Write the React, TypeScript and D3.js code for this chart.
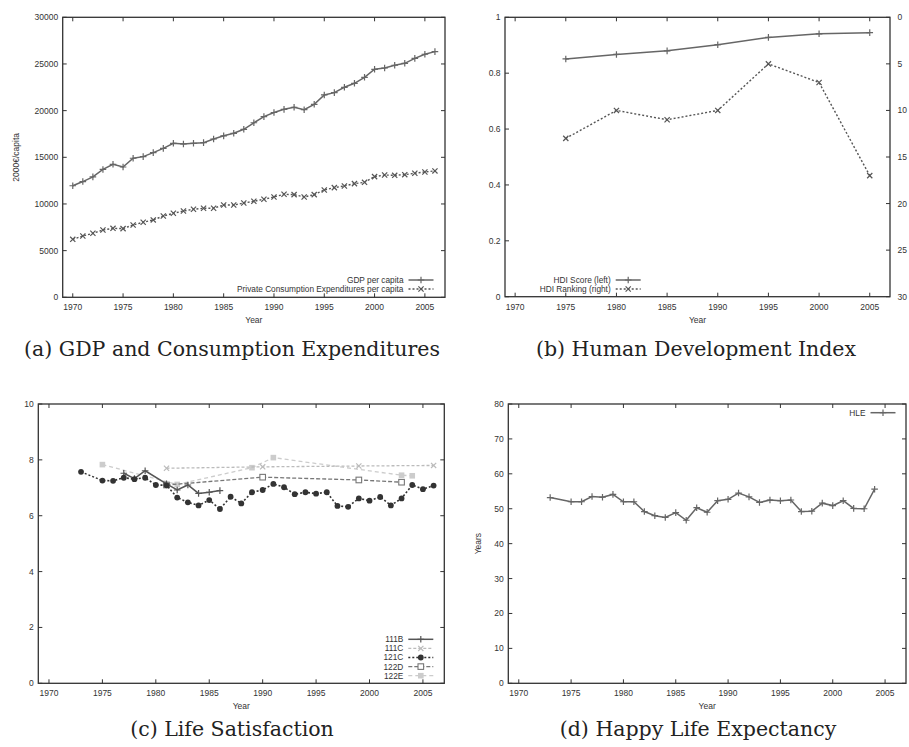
import { useEffect, useRef } from "react";
import * as d3 from "d3";

// ---- data ----
const yearTicks = [1970, 1975, 1980, 1985, 1990, 1995, 2000, 2005];

const gdpYears = [
  1970, 1971, 1972, 1973, 1974, 1975, 1976, 1977, 1978, 1979, 1980, 1981, 1982,
  1983, 1984, 1985, 1986, 1987, 1988, 1989, 1990, 1991, 1992, 1993, 1994, 1995,
  1996, 1997, 1998, 1999, 2000, 2001, 2002, 2003, 2004, 2005, 2006,
];
const gdp = [
  11950, 12400, 12900, 13700, 14250, 13960, 14900, 15070, 15500, 15960, 16500,
  16430, 16500, 16570, 16960, 17300, 17570, 18000, 18700, 19360, 19800, 20140,
  20360, 20100, 20680, 21680, 21930, 22500, 22930, 23570, 24430, 24570, 24860,
  25070, 25600, 26040, 26320,
];
const pce = [
  6210, 6570, 6860, 7210, 7390, 7360, 7750, 8040, 8290, 8710, 9000, 9250, 9430,
  9540, 9540, 9890, 9890, 10100, 10290, 10500, 10750, 11040, 11000, 10750,
  11000, 11500, 11750, 11930, 12180, 12320, 12930, 13100, 13070, 13140, 13290,
  13430, 13540,
];
const gdpTicks = [0, 5000, 10000, 15000, 20000, 25000, 30000];

const hdiYears = [1975, 1980, 1985, 1990, 1995, 2000, 2005];
const hdiScore = [0.851, 0.867, 0.88, 0.902, 0.928, 0.941, 0.945];
const hdiRank = [13, 10, 11, 10, 5, 7, 17];
const hdiTicks = [0, 0.2, 0.4, 0.6, 0.8, 1];
const rankTicks = [0, 5, 10, 15, 20, 25, 30];

const ls111BYears = [1977, 1978, 1979, 1981, 1982, 1983, 1984, 1985, 1986];
const ls111B = [7.52, 7.33, 7.61, 7.14, 6.92, 7.1, 6.8, 6.84, 6.9];
const ls111CYears = [1981, 1990, 1999, 2006];
const ls111C = [7.7, 7.75, 7.78, 7.8];
const ls121CYears = [
  1973, 1975, 1976, 1977, 1978, 1979, 1980, 1981, 1982, 1983, 1984, 1985, 1986,
  1987, 1988, 1989, 1990, 1991, 1992, 1993, 1994, 1995, 1996, 1997, 1998, 1999,
  2000, 2001, 2002, 2003, 2004, 2005, 2006,
];
const ls121C = [
  7.57, 7.26, 7.25, 7.36, 7.31, 7.36, 7.1, 7.09, 6.65, 6.48, 6.37, 6.56, 6.24,
  6.68, 6.44, 6.84, 6.92, 7.14, 7.02, 6.77, 6.84, 6.79, 6.84, 6.35, 6.32, 6.62,
  6.54, 6.67, 6.37, 6.62, 7.1, 6.95, 7.08,
];
const ls122DYears = [1981, 1990, 1999, 2003];
const ls122D = [7.1, 7.38, 7.28, 7.2];
const ls122EYears = [1975, 1982, 1989, 1991, 2003, 2004];
const ls122E = [7.83, 7.12, 7.72, 8.08, 7.45, 7.43];
const lsTicks = [0, 2, 4, 6, 8, 10];

const hleYears = [
  1973, 1975, 1976, 1977, 1978, 1979, 1980, 1981, 1982, 1983, 1984, 1985, 1986,
  1987, 1988, 1989, 1990, 1991, 1992, 1993, 1994, 1995, 1996, 1997, 1998, 1999,
  2000, 2001, 2002, 2003, 2004,
];
const hle = [
  53.2, 52.0, 52.0, 53.5, 53.3, 54.1, 52.0, 52.0, 49.2, 48.0, 47.5, 48.9, 46.7,
  50.3, 49.0, 52.3, 52.7, 54.5, 53.4, 51.8, 52.5, 52.3, 52.5, 49.2, 49.3, 51.6,
  50.9, 52.3, 50.1, 50.0, 55.6,
];
const hleTicks = [0, 10, 20, 30, 40, 50, 60, 70, 80];

const SANS = "'Liberation Sans', Arial, sans-serif";
const SERIF = "'DejaVu Serif', serif";
const AXIS = "#333";

type Sel = d3.Selection<any, unknown, null, undefined>;

function drawMarker(g: Sel, kind: string, cx: number, cy: number, color: string) {
  const s = 3.3;
  if (kind === "plus") {
    g.append("path")
      .attr("d", `M${cx - s},${cy}H${cx + s}M${cx},${cy - s}V${cy + s}`)
      .attr("stroke", color)
      .attr("stroke-width", 1.2);
  } else if (kind === "cross") {
    const k = 2.6;
    g.append("path")
      .attr("d", `M${cx - k},${cy - k}L${cx + k},${cy + k}M${cx - k},${cy + k}L${cx + k},${cy - k}`)
      .attr("stroke", color)
      .attr("stroke-width", 1.2);
  } else if (kind === "dot") {
    g.append("circle").attr("cx", cx).attr("cy", cy).attr("r", 2.9).attr("fill", color);
  } else if (kind === "box") {
    g.append("rect")
      .attr("x", cx - 2.8).attr("y", cy - 2.8).attr("width", 5.6).attr("height", 5.6)
      .attr("fill", "#fff").attr("stroke", color).attr("stroke-width", 1.1);
  } else if (kind === "fbox") {
    g.append("rect")
      .attr("x", cx - 2.8).attr("y", cy - 2.8).attr("width", 5.6).attr("height", 5.6)
      .attr("fill", color);
  }
}

interface SeriesCfg {
  xs: number[];
  ys: number[];
  color: string;
  dash: string | null;
  width: number;
  marker: string;
  label: string;
}

function drawSeries(g: Sel, x: any, y: any, s: SeriesCfg) {
  const pts = s.xs.map((v, i) => [v, s.ys[i]] as [number, number]);
  const line = d3.line<[number, number]>().x((d) => x(d[0])).y((d) => y(d[1]));
  g.append("path")
    .attr("d", line(pts))
    .attr("fill", "none")
    .attr("stroke", s.color)
    .attr("stroke-width", s.width)
    .attr("stroke-dasharray", s.dash);
  pts.forEach((d) => drawMarker(g, s.marker, x(d[0]), y(d[1]), s.color));
}

function drawLegendRow(g: Sel, s: SeriesCfg, tx: number, ty: number) {
  g.append("text")
    .attr("x", tx).attr("y", ty).attr("dy", "0.35em")
    .attr("text-anchor", "end")
    .attr("font-family", SANS).attr("font-size", 8.3).attr("fill", "#333")
    .text(s.label);
  g.append("line")
    .attr("x1", tx + 5).attr("x2", tx + 30).attr("y1", ty).attr("y2", ty)
    .attr("stroke", s.color).attr("stroke-width", s.width)
    .attr("stroke-dasharray", s.dash);
  drawMarker(g, s.marker, tx + 17.5, ty, s.color);
}

interface PanelCfg {
  left: number; right: number; top: number; bottom: number;
  yDomain: [number, number]; yTicks: number[]; yFmt: (v: number) => string;
  yLabel?: string; yLabelX?: number;
  mirrorY: boolean;
}

function drawPanel(svg: Sel, p: PanelCfg) {
  const g = svg.append("g");
  const x = d3.scaleLinear([1969, 2007], [p.left, p.right]);
  const y = d3.scaleLinear(p.yDomain, [p.bottom, p.top]);
  const tl = 4;

  // x ticks bottom + top mirror
  yearTicks.forEach((t) => {
    const px = x(t);
    g.append("line").attr("x1", px).attr("x2", px).attr("y1", p.bottom).attr("y2", p.bottom - tl)
      .attr("stroke", AXIS).attr("stroke-width", 1);
    g.append("line").attr("x1", px).attr("x2", px).attr("y1", p.top).attr("y2", p.top + tl)
      .attr("stroke", AXIS).attr("stroke-width", 1);
    g.append("text").attr("x", px).attr("y", p.bottom + 13)
      .attr("text-anchor", "middle").attr("font-family", SANS).attr("font-size", 8.5)
      .attr("fill", "#333").text(String(t));
  });
  p.yTicks.forEach((t) => {
    const py = y(t);
    g.append("line").attr("x1", p.left).attr("x2", p.left + tl).attr("y1", py).attr("y2", py)
      .attr("stroke", AXIS).attr("stroke-width", 1);
    if (p.mirrorY)
      g.append("line").attr("x1", p.right).attr("x2", p.right - tl).attr("y1", py).attr("y2", py)
        .attr("stroke", AXIS).attr("stroke-width", 1);
    g.append("text").attr("x", p.left - 4.5).attr("y", py).attr("dy", "0.35em")
      .attr("text-anchor", "end").attr("font-family", SANS).attr("font-size", 8.5)
      .attr("fill", "#333").text(p.yFmt(t));
  });
  g.append("rect")
    .attr("x", p.left).attr("y", p.top)
    .attr("width", p.right - p.left).attr("height", p.bottom - p.top)
    .attr("fill", "none").attr("stroke", AXIS).attr("stroke-width", 1.3);

  g.append("text")
    .attr("x", (p.left + p.right) / 2).attr("y", p.bottom + 26)
    .attr("text-anchor", "middle").attr("font-family", SANS).attr("font-size", 8.5)
    .attr("fill", "#333").text("Year");
  if (p.yLabel) {
    const cy = (p.top + p.bottom) / 2;
    g.append("text")
      .attr("transform", `translate(${p.yLabelX},${cy}) rotate(-90)`)
      .attr("text-anchor", "middle").attr("dy", "0.35em")
      .attr("font-family", SANS).attr("font-size", 8.5).attr("fill", "#333")
      .text(p.yLabel);
  }
  return { g, x, y };
}

function caption(svg: Sel, text: string, cx: number, by: number) {
  svg.append("text")
    .attr("x", cx).attr("y", by).attr("text-anchor", "middle")
    .attr("font-family", SERIF).attr("font-size", 20.5).attr("fill", "#222")
    .text(text);
}

export default function App() {
  const ref = useRef<SVGSVGElement | null>(null);

  useEffect(() => {
    if (!ref.current) return;
    const svg = d3.select(ref.current) as Sel;
    svg.selectAll("*").remove();

    // (a)
    const a = drawPanel(svg, {
      left: 62.7, right: 445, top: 17.3, bottom: 297.3,
      yDomain: [0, 30000], yTicks: gdpTicks, yFmt: (v) => String(v),
      yLabel: "2000€/capita", yLabelX: 16, mirrorY: true,
    });
    const gdpS: SeriesCfg = { xs: gdpYears, ys: gdp, color: "#666", dash: null, width: 1.5, marker: "plus", label: "GDP per capita" };
    const pceS: SeriesCfg = { xs: gdpYears, ys: pce, color: "#555", dash: "2,2", width: 1.4, marker: "cross", label: "Private Consumption Expenditures per capita" };
    drawSeries(a.g, a.x, a.y, gdpS);
    drawSeries(a.g, a.x, a.y, pceS);
    drawLegendRow(a.g, gdpS, 403.5, 280);
    drawLegendRow(a.g, pceS, 403.5, 289);

    // (b)
    const b = drawPanel(svg, {
      left: 505, right: 890, top: 17.3, bottom: 296.7,
      yDomain: [0, 1], yTicks: hdiTicks, yFmt: (v) => String(v), mirrorY: false,
    });
    const y2 = d3.scaleLinear([0, 30], [17.3, 296.7]);
    rankTicks.forEach((t) => {
      b.g.append("line").attr("x1", 890).attr("x2", 886).attr("y1", y2(t)).attr("y2", y2(t))
        .attr("stroke", AXIS).attr("stroke-width", 1);
      b.g.append("text").attr("x", 897.5).attr("y", y2(t)).attr("dy", "0.35em")
        .attr("font-family", SANS).attr("font-size", 8.5).attr("fill", "#333").text(String(t));
    });
    const scoreS: SeriesCfg = { xs: hdiYears, ys: hdiScore, color: "#666", dash: null, width: 1.5, marker: "plus", label: "HDI Score (left)" };
    const rankS: SeriesCfg = { xs: hdiYears, ys: hdiRank, color: "#555", dash: "2,2", width: 1.4, marker: "cross", label: "HDI Ranking (right)" };
    drawSeries(b.g, b.x, b.y, scoreS);
    drawSeries(b.g, b.x, y2, rankS);
    drawLegendRow(b.g, scoreS, 610.7, 280);
    drawLegendRow(b.g, rankS, 610.7, 289);

    // (c)
    const c = drawPanel(svg, {
      left: 38.3, right: 444.3, top: 404, bottom: 683.3,
      yDomain: [0, 10], yTicks: lsTicks, yFmt: (v) => String(v), mirrorY: true,
    });
    const lsSeries: SeriesCfg[] = [
      { xs: ls111BYears, ys: ls111B, color: "#555", dash: null, width: 1.5, marker: "plus", label: "111B" },
      { xs: ls111CYears, ys: ls111C, color: "#bbb", dash: "3,2", width: 1.3, marker: "cross", label: "111C" },
      { xs: ls121CYears, ys: ls121C, color: "#333", dash: "2,2", width: 1.6, marker: "dot", label: "121C" },
      { xs: ls122DYears, ys: ls122D, color: "#777", dash: "4,2", width: 1.3, marker: "box", label: "122D" },
      { xs: ls122EYears, ys: ls122E, color: "#ccc", dash: "4,3", width: 1.3, marker: "fbox", label: "122E" },
    ];
    [4, 1, 3, 0, 2].forEach((i) => drawSeries(c.g, c.x, c.y, lsSeries[i]));
    lsSeries.forEach((s, i) => drawLegendRow(c.g, s, 403.3, 639.3 + i * 9.1));

    // (d)
    const d = drawPanel(svg, {
      left: 508.3, right: 906, top: 404, bottom: 683.3,
      yDomain: [0, 80], yTicks: hleTicks, yFmt: (v) => String(v),
      yLabel: "Years", yLabelX: 478, mirrorY: true,
    });
    const hleS: SeriesCfg = { xs: hleYears, ys: hle, color: "#666", dash: null, width: 1.5, marker: "plus", label: "HLE" };
    drawSeries(d.g, d.x, d.y, hleS);
    drawLegendRow(d.g, hleS, 865.5, 412.7);

    caption(svg, "(a) GDP and Consumption Expenditures", 232, 356);
    caption(svg, "(b) Human Development Index", 696, 356);
    caption(svg, "(c) Life Satisfaction", 232, 736);
    caption(svg, "(d) Happy Life Expectancy", 698, 736);
  }, []);

  return (
    <svg
      ref={ref}
      width={909}
      height={747}
      style={{ position: "absolute", left: 0, top: 0, background: "#fff" }}
    />
  );
}
